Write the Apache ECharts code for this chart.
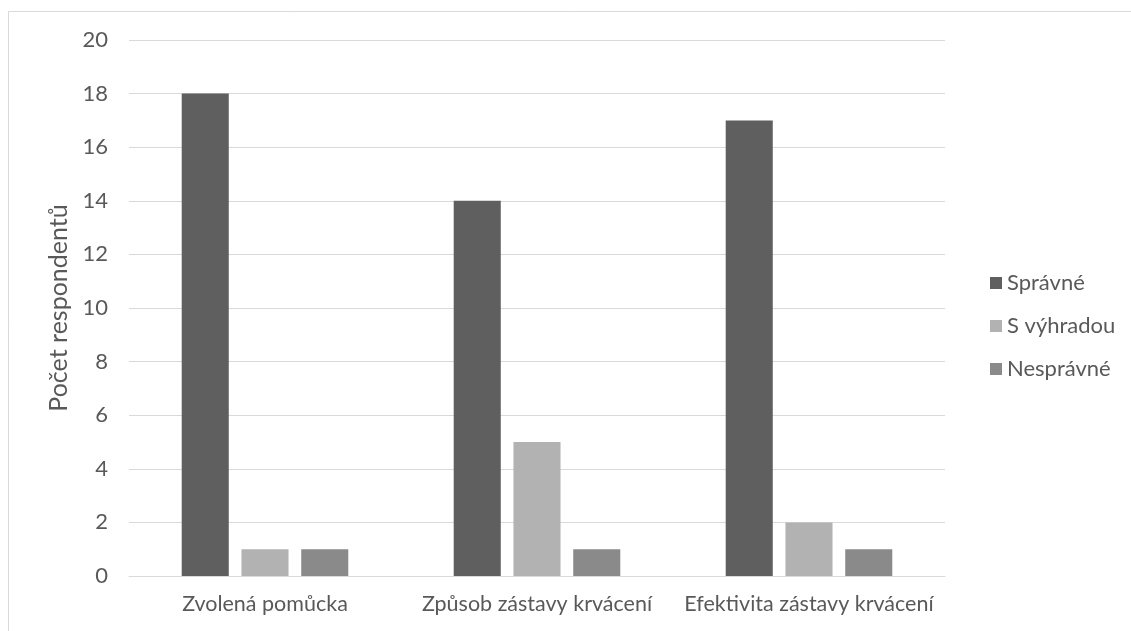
<!DOCTYPE html>
<html><head><meta charset="utf-8">
<script src="https://cdn.jsdelivr.net/npm/echarts@6/dist/echarts.min.js"></script>
<style>html,body{margin:0;padding:0;background:#fff}#c{width:1131px;height:631px}</style>
</head><body><div id="c"></div>
<script>
const categories = ['Zvolená pomůcka', 'Způsob zástavy krvácení', 'Efektivita zástavy krvácení'];
const seriesNames = ['Správné', 'S výhradou', 'Nesprávné'];
const spravne = [18, 14, 17];
const sVyhradou = [1, 5, 2];
const nespravne = [1, 1, 1];
const colors = ['#5f5f5f', '#b2b2b2', '#8a8a8a'];
const yTicks = { min: 0, max: 20, interval: 2 };

const font = 'Lato';
const chart = echarts.init(document.getElementById('c'));
chart.setOption({
  animation: false,
  color: colors,
  textStyle: { fontFamily: font },
  graphic: [{ type: 'rect', shape: { x: 8.5, y: 11.5, width: 1140, height: 640 }, style: { fill: 'none', stroke: '#d9d9d9', lineWidth: 1 } }],
  grid: { left: 129, right: 186, top: 40, bottom: 55 },
  legend: {
    orient: 'vertical', left: 985, top: 267, itemGap: 21,
    itemWidth: 12, itemHeight: 12, icon: 'rect',
    textStyle: { color: '#595959', fontSize: 22, fontFamily: font },
    data: seriesNames
  },
  xAxis: {
    type: 'category', data: categories,
    axisLine: { lineStyle: { color: '#d9d9d9', width: 1 } },
    axisTick: { show: false },
    axisLabel: { color: '#595959', fontSize: 21.5, margin: 17, interval: 0, hideOverlap: false, fontFamily: font }
  },
  yAxis: {
    type: 'value', min: yTicks.min, max: yTicks.max, interval: yTicks.interval,
    name: 'Počet respondentů', nameLocation: 'middle', nameGap: 54, nameRotate: 90,
    nameTextStyle: { color: '#595959', fontSize: 25, fontFamily: font },
    axisLine: { show: false }, axisTick: { show: false },
    axisLabel: { color: '#595959', fontSize: 22, margin: 21, fontFamily: font },
    splitLine: { lineStyle: { color: '#d9d9d9', width: 1 } }
  },
  series: [
    { name: seriesNames[0], type: 'bar', data: spravne, barWidth: '17.3%', barGap: '27%' },
    { name: seriesNames[1], type: 'bar', data: sVyhradou, barWidth: '17.3%', barGap: '27%' },
    { name: seriesNames[2], type: 'bar', data: nespravne, barWidth: '17.3%', barGap: '27%' }
  ]
});
</script></body></html>
